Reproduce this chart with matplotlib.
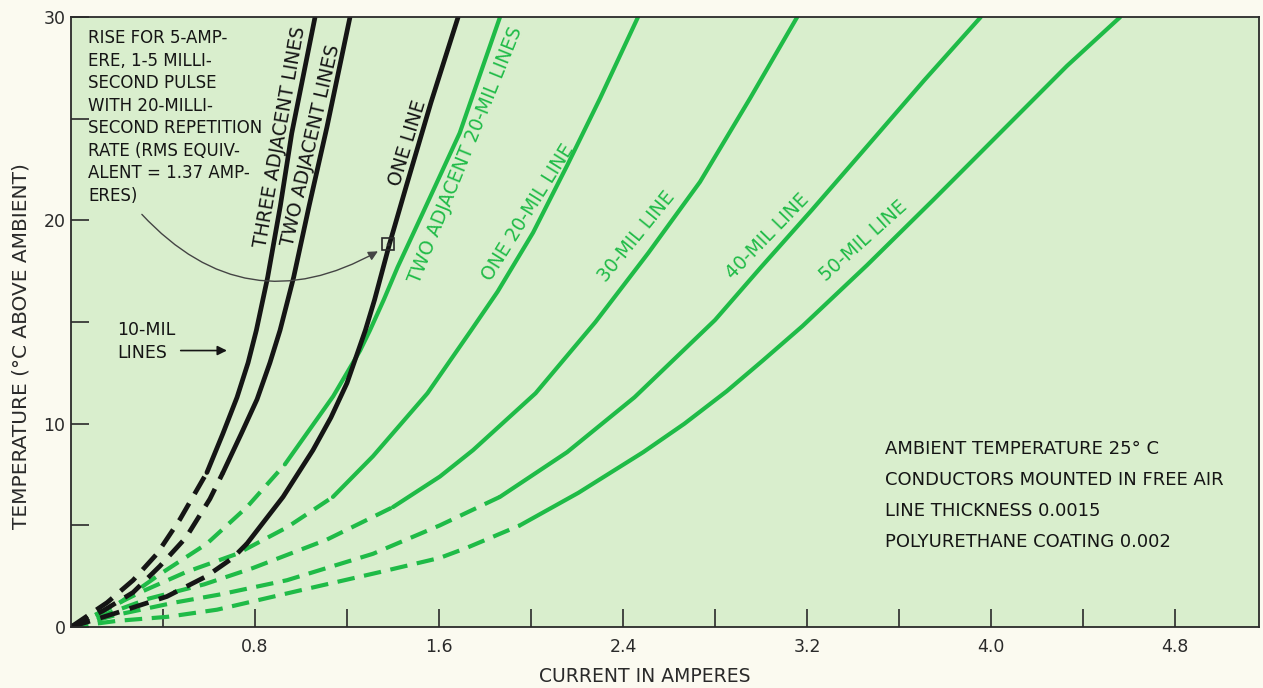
import numpy as np
import matplotlib
matplotlib.use('Agg')
import matplotlib.pyplot as plt

# current (A) vs temperature rise (deg C)
# 10-mil lines (black)
three_i = [0, 0.157, 0.27, 0.374, 0.474, 0.591, 0.66, 0.722, 0.77, 0.806, 0.855, 0.91, 0.96, 1.061]
three_t = [0, 1.2, 2.3, 3.6, 5.3, 7.6, 9.5, 11.3, 13.0, 14.6, 17.2, 20.7, 24.3, 30]
two_i = [0, 0.14, 0.27, 0.387, 0.50, 0.604, 0.661, 0.74, 0.809, 0.865, 0.909, 0.968, 1.035, 1.113, 1.213]
two_t = [0, 0.8, 1.7, 3.0, 4.4, 6.3, 7.6, 9.5, 11.2, 13.0, 14.6, 17.2, 20.7, 24.6, 30]
one_i = [0, 0.2, 0.417, 0.59, 0.704, 0.765, 0.922, 1.052, 1.13, 1.20, 1.28, 1.32, 1.385, 1.458, 1.565, 1.683]
one_t = [0, 0.7, 1.5, 2.5, 3.4, 4.1, 6.4, 8.7, 10.3, 12.0, 14.6, 16.1, 18.85, 21.7, 25.8, 30]
# green lines
tw20_i = [0, 0.2, 0.387, 0.591, 0.765, 0.93, 1.14, 1.257, 1.30, 1.36, 1.42, 1.535, 1.69, 1.865]
tw20_t = [0, 1.1, 2.6, 4.1, 5.9, 8.0, 11.35, 13.6, 14.6, 16.1, 17.7, 20.5, 24.3, 30]
one20_i = [0, 0.30, 0.50, 0.722, 0.939, 1.139, 1.313, 1.55, 1.74, 1.855, 2.009, 2.157, 2.30, 2.465]
one20_t = [0, 1.7, 2.7, 3.6, 4.9, 6.4, 8.4, 11.5, 14.6, 16.5, 19.4, 22.7, 26.0, 30]
m30_i = [0, 0.34, 0.58, 0.791, 1.113, 1.40, 1.604, 1.748, 2.02, 2.28, 2.51, 2.735, 2.952, 3.157]
m30_t = [0, 1.4, 2.1, 2.9, 4.3, 5.9, 7.4, 8.7, 11.5, 15.0, 18.4, 21.9, 26.0, 30]
m40_i = [0, 0.2, 0.45, 0.648, 0.939, 1.313, 1.604, 1.865, 2.157, 2.45, 2.80, 3.0, 3.22, 3.45, 3.71, 3.955]
m40_t = [0, 0.6, 1.2, 1.6, 2.3, 3.6, 5.0, 6.4, 8.6, 11.3, 15.1, 17.7, 20.5, 23.5, 26.9, 30]
m50_i = [0, 0.2, 0.42, 0.635, 0.996, 1.343, 1.604, 1.722, 1.952, 2.206, 2.488, 2.667, 2.851, 3.007, 3.18,
         3.461, 3.748, 4.039, 4.33, 4.561]
m50_t = [0, 0.3, 0.5, 0.85, 1.8, 2.7, 3.4, 3.9, 5.0, 6.6, 8.6, 10.0, 11.6, 13.1, 14.8,
         17.8, 21.0, 24.3, 27.6, 30]

# current where each curve turns from dashed to solid
breaks = {'three': 0.591, 'two': 0.661, 'one': 0.765, 'tw20': 0.93,
          'one20': 1.139, 'm30': 1.40, 'm40': 1.865, 'm50': 1.952}

pulse_i, pulse_t = 1.38, 18.85

notes = ['AMBIENT TEMPERATURE 25\u00b0 C', 'CONDUCTORS MOUNTED IN FREE AIR',
         'LINE THICKNESS 0.0015', 'POLYURETHANE COATING 0.002']

BLACK = '#151515'
GREEN = '#1fbb47'
INK = '#2a2a2a'

fig = plt.figure(figsize=(12.63, 6.88), dpi=100, facecolor='#fbfaf0')
ax = fig.add_axes([0.0562, 0.0887, 0.9406, 0.8863])
ax.set_facecolor('#d9eecd')


def draw(i, t, brk, color, lw):
    i = np.array(i)
    t = np.array(t)
    d = i <= brk
    s = i >= brk
    ax.plot(i[d], t[d], color=color, lw=lw, dashes=(4.2, 2.3), solid_capstyle='butt')
    ax.plot(i[s], t[s], color=color, lw=lw, solid_joinstyle='round', solid_capstyle='round')


draw(m50_i, m50_t, breaks['m50'], GREEN, 3.0)
draw(m40_i, m40_t, breaks['m40'], GREEN, 3.0)
draw(m30_i, m30_t, breaks['m30'], GREEN, 3.0)
draw(one20_i, one20_t, breaks['one20'], GREEN, 3.0)
draw(tw20_i, tw20_t, breaks['tw20'], GREEN, 3.0)
draw(one_i, one_t, breaks['one'], BLACK, 3.4)
draw(two_i, two_t, breaks['two'], BLACK, 3.4)
draw(three_i, three_t, breaks['three'], BLACK, 3.4)

ax.set_xlim(0, 5.165)
ax.set_ylim(0, 30)

xt = np.arange(0.4, 5.0, 0.4)
ax.set_xticks(xt)
ax.set_xticklabels(['' if k % 2 == 0 else '%.1f' % v for k, v in enumerate(xt)])
ax.set_yticks(range(0, 31, 5))
ax.set_yticklabels(['0', '', '10', '', '20', '', '30'])
ax.tick_params(direction='in', length=13, width=1.2, color=INK, labelsize=12.5, labelcolor=INK)
ax.tick_params(axis='x', pad=8)
ax.tick_params(axis='y', pad=4)
for sp in ax.spines.values():
    sp.set_color(INK)
    sp.set_linewidth(1.3)

ax.set_xlabel('CURRENT IN AMPERES', fontsize=13.5, color=INK)
ax.xaxis.set_label_coords(0.483, -0.066)
ax.set_ylabel('TEMPERATURE (\u00b0C ABOVE AMBIENT)', fontsize=14.5, color=INK)
ax.yaxis.set_label_coords(-0.034, 0.46)

# curve labels
lab = dict(fontsize=13.5, ha='center', va='center', rotation_mode='anchor')
ax.text(0.91, 24.1, 'THREE ADJACENT LINES', color=BLACK, rotation=80, **lab)
ax.text(1.045, 23.7, 'TWO ADJACENT LINES', color=BLACK, rotation=77, **lab)
ax.text(1.462, 23.8, 'ONE LINE', color=BLACK, rotation=73, **lab)
ax.text(1.718, 23.2, 'TWO ADJACENT 20-MIL LINES', color=GREEN, rotation=68, **lab)
ax.text(1.985, 20.4, 'ONE 20-MIL LINE', color=GREEN, rotation=58, **lab)
ax.text(2.46, 19.2, '30-MIL LINE', color=GREEN, rotation=51, **lab)
ax.text(3.03, 19.2, '40-MIL LINE', color=GREEN, rotation=46, **lab)
ax.text(3.445, 19.0, '50-MIL LINE', color=GREEN, rotation=42, **lab)

# pulse annotation
ax.text(0.074, 29.4, 'RISE FOR 5-AMP-\nERE, 1-5 MILLI-\nSECOND PULSE\nWITH 20-MILLI-\n'
        'SECOND REPETITION\nRATE (RMS EQUIV-\nALENT = 1.37 AMP-\nERES)',
        fontsize=12, color=BLACK, ha='left', va='top', linespacing=1.32)
ax.plot([pulse_i], [pulse_t], marker='s', ms=8, mfc='none', mec=INK, mew=1.2)
ax.plot([pulse_i], [pulse_t], marker='.', ms=3, color=INK)
ax.annotate('', xy=(pulse_i - 0.035, pulse_t - 0.3), xytext=(0.30, 20.4),
            arrowprops=dict(arrowstyle='-|>', color='#444444', lw=1.0,
                            connectionstyle='arc3,rad=0.4', mutation_scale=14))

ax.text(0.2, 14.6, '10-MIL', fontsize=12.5, color=BLACK, ha='left', va='center')
ax.text(0.2, 13.5, 'LINES', fontsize=12.5, color=BLACK, ha='left', va='center')
ax.annotate('', xy=(0.69, 13.6), xytext=(0.465, 13.6),
            arrowprops=dict(arrowstyle='-|>', color=BLACK, lw=1.2, mutation_scale=14))

for k, s in enumerate(notes):
    ax.text(3.54, 8.77 - 1.53 * k, s, fontsize=13, color=BLACK, ha='left', va='center')

fig.savefig('out.png', dpi=100, facecolor=fig.get_facecolor())
